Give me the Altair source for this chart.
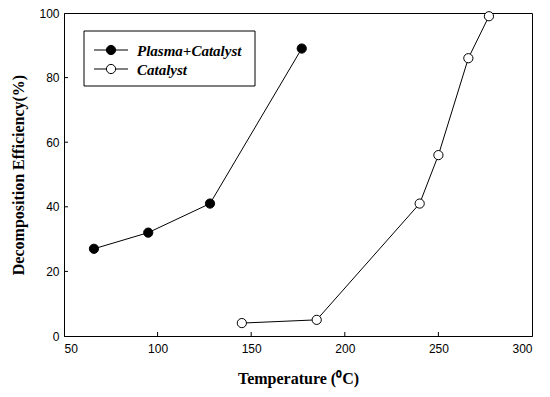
import altair as alt
import pandas as pd

# Decomposition efficiency vs. temperature for the two treatment modes
series = ["Plasma+Catalyst", "Catalyst"]
plasma_temp = [66, 95, 128, 177]
plasma_eff = [27, 32, 41, 89]
catalyst_temp = [145, 185, 240, 250, 266, 277]
catalyst_eff = [4, 5, 41, 56, 86, 99]

x_ticks = [50, 100, 150, 200, 250, 300]
y_ticks = [0, 20, 40, 60, 80, 100]

W, H = 468, 323
TICK_LEN = 4

df = pd.concat([
    pd.DataFrame({"series": series[0], "temp": plasma_temp, "eff": plasma_eff}),
    pd.DataFrame({"series": series[1], "temp": catalyst_temp, "eff": catalyst_eff}),
])

x_scale = alt.Scale(domain=[x_ticks[0], x_ticks[-1]], nice=False, zero=False)
y_scale = alt.Scale(domain=[y_ticks[0], y_ticks[-1]], nice=False)

x_axis = alt.Axis(values=x_ticks, title="Temperature (\u2070C)", labelPadding=7, titlePadding=16)
y_axis = alt.Axis(values=y_ticks, title="Decomposition Efficiency(%)", labelPadding=5, titlePadding=12)

lines = alt.Chart(df).mark_line(color="black", strokeWidth=1).encode(
    x=alt.X("temp:Q", scale=x_scale, axis=x_axis),
    y=alt.Y("eff:Q", scale=y_scale, axis=y_axis),
    detail="series:N")

points = alt.Chart(df).mark_point(filled=True, size=85, stroke="black", strokeWidth=1, opacity=1).encode(
    x=alt.X("temp:Q", scale=x_scale, axis=x_axis),
    y=alt.Y("eff:Q", scale=y_scale, axis=y_axis),
    fill=alt.Fill("series:N", scale=alt.Scale(domain=series, range=["black", "white"]), legend=None),
)

# inward-pointing tick marks on the bottom and left axes
xt = pd.DataFrame({"temp": x_ticks[1:-1]})
yt = pd.DataFrame({"eff": y_ticks[1:-1]})
x_tick_marks = alt.Chart(xt).mark_rule(color="black", strokeWidth=1).encode(
    x=alt.X("temp:Q", scale=x_scale, axis=x_axis), y=alt.value(H), y2=alt.value(H - TICK_LEN))
y_tick_marks = alt.Chart(yt).mark_rule(color="black", strokeWidth=1).encode(
    y=alt.Y("eff:Q", scale=y_scale, axis=y_axis), x=alt.value(0), x2=alt.value(TICK_LEN))

# boxed legend in the upper-left corner
legend_layers = [
    alt.Chart(pd.DataFrame({"k": [0]})).mark_rect(fill="white", stroke="black", strokeWidth=1).encode(
        x=alt.value(20), x2=alt.value(191), y=alt.value(18), y2=alt.value(73))
]
row_y = [37, 56]
fills = ["black", "white"]
for name, ry, fc in zip(series, row_y, fills):
    one = pd.DataFrame({"name": [name]})
    legend_layers.append(alt.Chart(one).mark_rule(color="black", strokeWidth=1).encode(
        x=alt.value(30), x2=alt.value(64), y=alt.value(ry)))
    legend_layers.append(alt.Chart(one).mark_point(
        filled=True, fill=fc, stroke="black", strokeWidth=1, size=85, opacity=1).encode(
        x=alt.value(47), y=alt.value(ry)))
    legend_layers.append(alt.Chart(one).mark_text(
        align="left", baseline="middle", font="Liberation Serif", fontStyle="italic",
        fontWeight="bold", fontSize=15, color="black").encode(
        x=alt.value(73), y=alt.value(ry + 1), text="name:N"))

chart = alt.layer(lines, points, x_tick_marks, y_tick_marks, *legend_layers).properties(
    width=W, height=H,
    padding={"left": 64, "top": 13, "right": 18, "bottom": 61},
    autosize=alt.AutoSizeParams(type="none"),
).configure_view(
    stroke="black", strokeWidth=1
).configure_axis(
    grid=False, domainColor="black", domainWidth=1, tickSize=0,
    labelFont="Liberation Sans", labelFontSize=12, labelColor="black",
    titleFont="Liberation Serif", titleFontWeight="bold", titleFontSize=16, titleColor="black",
)

chart.save("out.html", embed_options={"renderer": "svg", "actions": False})
